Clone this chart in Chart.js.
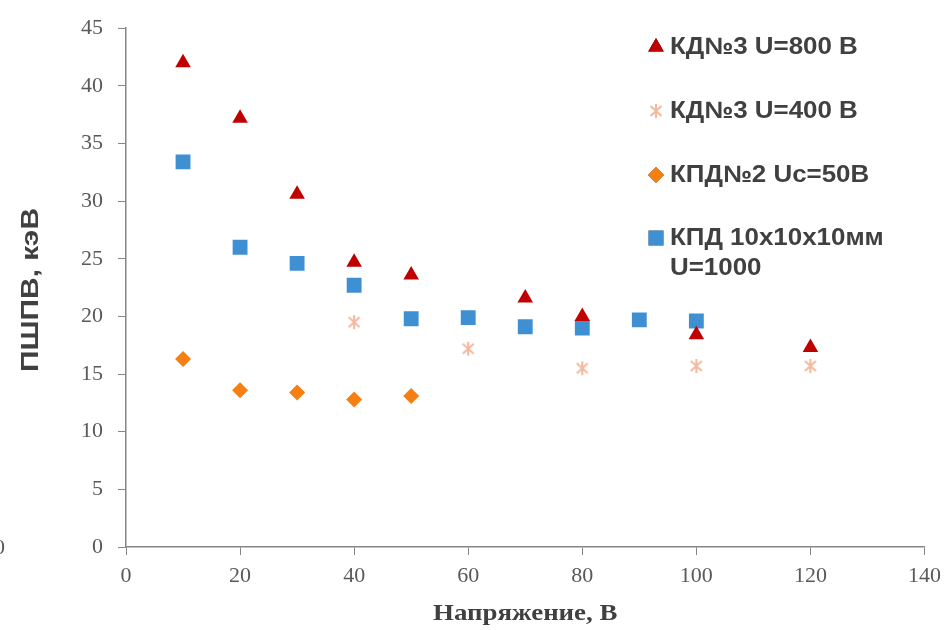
<!DOCTYPE html>
<html>
<head>
<meta charset="utf-8">
<script src="https://cdn.jsdelivr.net/npm/chart.js@4/dist/chart.umd.min.js"></script>
<style>
  html, body { margin: 0; padding: 0; background: #fff; }
  #wrap { width: 949px; height: 630px; position: relative; }
</style>
</head>
<body>
<div id="wrap"><canvas id="chart"></canvas></div>
<script>
// --- data ---
const kd800X = [10, 20, 30, 40, 50, 70, 80, 100, 120];
const kd800Y = [42.0, 37.2, 30.6, 24.7, 23.6, 21.6, 20.0, 18.4, 17.3];

const kd400X = [40, 60, 80, 100, 120];
const kd400Y = [19.5, 17.2, 15.5, 15.7, 15.7];

const kpd2X = [10, 20, 30, 40, 50];
const kpd2Y = [16.3, 13.6, 13.4, 12.8, 13.1];

const kpd10X = [10, 20, 30, 40, 50, 60, 70, 80, 90, 100];
const kpd10Y = [33.4, 26.0, 24.6, 22.7, 19.8, 19.9, 19.1, 19.0, 19.7, 19.6];

const seriesLabels = [
    ['КД№3 U=800 В'],
    ['КД№3 U=400 В'],
    ['КПД№2 Uc=50В'],
    ['КПД 10х10х10мм', 'U=1000']
];
const xTitle = 'Напряжение, В';
const yTitle = 'ПШПВ, кэВ';

const pts = (xs, ys) => xs.map((x, i) => ({ x: x, y: ys[i] }));

// asterisk marker (vertical + two diagonals)
function makeAsterisk(color) {
    const c = document.createElement('canvas');
    c.width = 16; c.height = 16;
    const g = c.getContext('2d');
    g.strokeStyle = color;
    g.lineWidth = 2;
    g.beginPath();
    g.moveTo(8, 1); g.lineTo(8, 15);
    g.moveTo(2.5, 3); g.lineTo(13.5, 13);
    g.moveTo(13.5, 3); g.lineTo(2.5, 13);
    g.stroke();
    return c;
}
const asterisk = makeAsterisk('#F4B89E');

const tickFont = { family: '"Liberation Serif", "Times New Roman", serif', size: 22 };
const axisColor = '#868686';
const SANS_B = 'bold 24px "Liberation Sans", Arial, sans-serif';
const SERIF_B = 'bold 24px "Liberation Serif", "Times New Roman", serif';

// text widened a little, the way the original renders it
function wideText(ctx, text, x, y, sx) {
    ctx.save();
    ctx.translate(x, y);
    ctx.scale(sx, 1);
    ctx.fillText(text, 0, 0);
    ctx.restore();
}

// legend inside plot area + axis titles
const extras = {
    id: 'extras',
    afterDraw(chart) {
        const ctx = chart.ctx;
        const area = chart.chartArea;
        const rows = [47, 111, 175, 238];
        ctx.save();
        chart.data.datasets.forEach((ds, i) => {
            const y = rows[i];
            Chart.helpers.drawPoint(ctx, {
                pointStyle: ds.pointStyle, radius: ds.pointRadius, borderWidth: 0
            }, 656, y);
            if (ds.pointStyle !== asterisk) { ctx.fillStyle = ds.backgroundColor; ctx.fill(); }
            ctx.fillStyle = '#404040';
            ctx.font = SANS_B;
            ctx.textBaseline = 'middle';
            ctx.textAlign = 'left';
            seriesLabels[i].forEach((t, k) => wideText(ctx, t, 670, y + k * 30, 1.08));
        });

        // x title
        ctx.font = SERIF_B;
        ctx.textAlign = 'center';
        ctx.fillStyle = '#404040';
        wideText(ctx, xTitle, (area.left + area.right) / 2, 614, 1.12);

        // y title, rotated
        ctx.save();
        ctx.translate(31, 290);
        ctx.rotate(-Math.PI / 2);
        ctx.font = SANS_B;
        const w = ctx.measureText(yTitle).width;
        ctx.scale(164 / w, 1);
        ctx.fillText(yTitle, 0, 0);
        ctx.restore();

        // clipped label at far left edge
        ctx.fillStyle = '#595959';
        ctx.font = '22px "Liberation Serif", serif';
        ctx.textAlign = 'left';
        ctx.fillText('0', -6, 548);
        ctx.restore();
    }
};

new Chart(document.getElementById('chart'), {
    type: 'scatter',
    data: {
        datasets: [
            { label: seriesLabels[0].join(' '), data: pts(kd800X, kd800Y), pointStyle: 'triangle', pointRadius: 9, backgroundColor: '#C00000', borderWidth: 0 },
            { label: seriesLabels[1].join(' '), data: pts(kd400X, kd400Y), pointStyle: asterisk, pointRadius: 8, backgroundColor: '#F4B89E', borderWidth: 0 },
            { label: seriesLabels[2].join(' '), data: pts(kpd2X, kpd2Y), pointStyle: 'rectRot', pointRadius: 8, backgroundColor: '#F57F12', borderWidth: 0 },
            { label: seriesLabels[3].join(' '), data: pts(kpd10X, kpd10Y), pointStyle: 'rect', pointRadius: 10.5, backgroundColor: '#3F8FD3', borderWidth: 0 }
        ]
    },
    options: {
        responsive: true, maintainAspectRatio: false, animation: false,
        layout: { padding: { top: 23, right: 24, left: 0, bottom: 0 } },
        plugins: { legend: { display: false }, tooltip: { enabled: false } },
        scales: {
            x: {
                type: 'linear', min: 0, max: 140,
                ticks: { stepSize: 20, color: '#595959', font: tickFont, padding: 8, maxRotation: 0 },
                grid: { drawOnChartArea: false, tickLength: 8, color: axisColor },
                border: { color: axisColor, width: 1.5 },
                afterFit(s) { s.height = 83; }
            },
            y: {
                min: 0, max: 45,
                ticks: { stepSize: 5, color: '#595959', font: tickFont, padding: 15 },
                grid: { drawOnChartArea: false, tickLength: 8, color: axisColor },
                border: { color: axisColor, width: 1.5 },
                afterFit(s) { s.width = 126; }
            }
        }
    },
    plugins: [extras]
});
</script>
</body>
</html>
